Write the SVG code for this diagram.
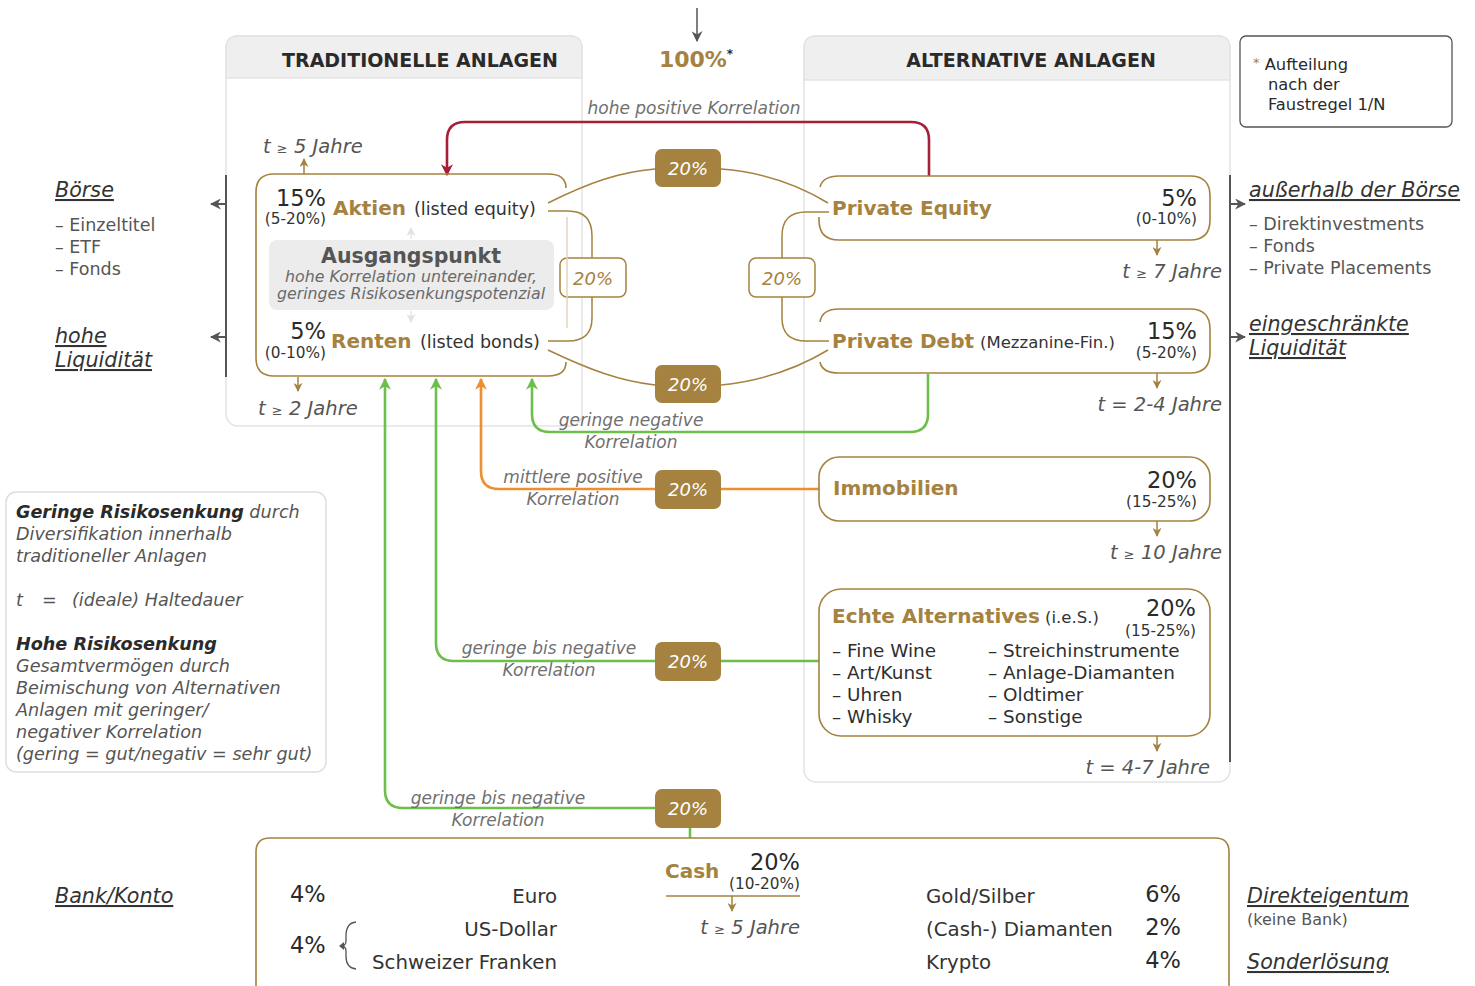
<svg xmlns="http://www.w3.org/2000/svg" width="1475" height="986" viewBox="0 0 1475 986" fill="#2e2e2e">
<defs>
<style>
text{font-family:"DejaVu Sans","Liberation Sans",sans-serif}
.hd{font-size:19px;font-weight:bold;fill:#2a2a2a}
.gt{font-weight:bold;fill:#a5823f;font-size:20px}
.sub{font-size:17.5px;fill:#333}
.pc{font-size:22.5px;fill:#2a2a2a}
.rg{font-size:15.3px;fill:#333}
.it{font-style:italic;fill:#6a6a6a}
.tj{font-style:italic;font-size:19.5px;fill:#555}
.lab{font-style:italic;font-size:17px;fill:#707070}
.wb{font-style:italic;font-size:18px;fill:#fff}
.ob{font-style:italic;font-size:18px;fill:#a5823f}
.ul{font-style:italic;font-size:20.7px;fill:#333;text-decoration:underline}
.li{font-size:17.5px;fill:#555}
.it2{font-style:italic;font-size:17.6px;fill:#555}
.gbox{fill:#a5823f}
.obox{fill:#fff;stroke:#a5823f;stroke-width:1.5}
.node{fill:none;stroke:#a5823f;stroke-width:1.6}
.gold{fill:none;stroke:#a5823f;stroke-width:1.5}
.grn{fill:none;stroke:#6cbf4a;stroke-width:2.6}
.org{fill:none;stroke:#ef8e2e;stroke-width:2.6}
.red{fill:none;stroke:#a51f36;stroke-width:2.6}
.dk{fill:none;stroke:#555;stroke-width:2}
.panel{fill:#fff;stroke:#e3e3e3;stroke-width:1.5}
.hdr{fill:#efefef;stroke:#e3e3e3;stroke-width:1.5}
</style>
<marker id="mG" viewBox="0 0 10 10" refX="9" refY="5" markerWidth="9" markerHeight="9" markerUnits="userSpaceOnUse" orient="auto"><path d="M0,0 L10,5 L0,10 L3,5 z" fill="#a5823f"/></marker>
<marker id="mGr" viewBox="0 0 10 10" refX="9" refY="5" markerWidth="12" markerHeight="12" markerUnits="userSpaceOnUse" orient="auto"><path d="M0,0 L10,5 L0,10 L3,5 z" fill="#6cbf4a"/></marker>
<marker id="mO" viewBox="0 0 10 10" refX="9" refY="5" markerWidth="12" markerHeight="12" markerUnits="userSpaceOnUse" orient="auto"><path d="M0,0 L10,5 L0,10 L3,5 z" fill="#ef8e2e"/></marker>
<marker id="mR" viewBox="0 0 10 10" refX="9" refY="5" markerWidth="12" markerHeight="12" markerUnits="userSpaceOnUse" orient="auto"><path d="M0,0 L10,5 L0,10 L3,5 z" fill="#a51f36"/></marker>
<marker id="mK" viewBox="0 0 10 10" refX="9" refY="5" markerWidth="11" markerHeight="11" markerUnits="userSpaceOnUse" orient="auto"><path d="M0,0 L10,5 L0,10 L3,5 z" fill="#555"/></marker>
<marker id="mL" viewBox="0 0 10 10" refX="9" refY="5" markerWidth="9" markerHeight="9" markerUnits="userSpaceOnUse" orient="auto"><path d="M0,0 L10,5 L0,10 L3,5 z" fill="#e2e2e2"/></marker>
</defs>
<rect width="1475" height="986" fill="#fff"/>

<g id="panel-trad">
<rect class="panel" x="226" y="36" width="356" height="390" rx="12"/>
<path class="hdr" d="M226,78 V48 Q226,36 238,36 H570 Q582,36 582,48 V78 Z"/>
<text class="hd" x="420" y="67" text-anchor="middle">TRADITIONELLE ANLAGEN</text>
</g>
<g id="panel-alt">
<rect class="panel" x="804" y="36" width="426" height="746" rx="12"/>
<path class="hdr" d="M804,80 V48 Q804,36 816,36 H1218 Q1230,36 1230,48 V80 Z"/>
<text class="hd" x="1031" y="67" text-anchor="middle">ALTERNATIVE ANLAGEN</text>
</g>

<g id="footnote">
<rect x="1240" y="36" width="212" height="91" rx="6" fill="#fff" stroke="#555" stroke-width="1.3"/>
<text x="1253" y="70" font-size="16.3" fill="#2a2a2a"><tspan fill="#a5823f" font-size="13" dy="-3">*</tspan><tspan dy="3"> Aufteilung</tspan></text>
<text x="1268" y="90" font-size="16.3" fill="#2a2a2a">nach der</text>
<text x="1268" y="110" font-size="16.3" fill="#2a2a2a">Faustregel 1/N</text>
</g>

<g id="total">
<text x="696" y="67" text-anchor="middle" font-size="22" font-weight="bold" fill="#a5823f">100%<tspan font-size="12" dy="-9" fill="#2a2a2a">*</tspan></text>
</g>

<g id="side-left">
<line class="dk" x1="226" y1="175" x2="226" y2="377"/>
<line class="dk" x1="226" y1="204" x2="211" y2="204" marker-end="url(#mK)"/>
<line class="dk" x1="226" y1="337" x2="211" y2="337" marker-end="url(#mK)"/>
<text class="ul" x="55" y="197">Börse</text>
<text class="li" x="55" y="231">– Einzeltitel</text>
<text class="li" x="55" y="253">– ETF</text>
<text class="li" x="55" y="275">– Fonds</text>
<text class="ul" x="55" y="343">hohe</text>
<text class="ul" x="55" y="367">Liquidität</text>
</g>
<g id="side-right">
<line class="dk" x1="1230" y1="175" x2="1230" y2="762"/>
<line class="dk" x1="1230" y1="204" x2="1245" y2="204" marker-end="url(#mK)"/>
<line class="dk" x1="1230" y1="337" x2="1245" y2="337" marker-end="url(#mK)"/>
<text class="ul" x="1249" y="197">außerhalb der Börse</text>
<text class="li" x="1249" y="230">– Direktinvestments</text>
<text class="li" x="1249" y="252">– Fonds</text>
<text class="li" x="1249" y="274">– Private Placements</text>
<text class="ul" x="1249" y="331">eingeschränkte</text>
<text class="ul" x="1249" y="355">Liquidität</text>
</g>

<g id="connectors">
<line x1="697" y1="8" x2="697" y2="41" stroke="#555" stroke-width="1.5" marker-end="url(#mK)"/>
<path class="red" d="M929,176 V140 Q929,122 911,122 H465 Q447,122 447,140 V175" marker-end="url(#mR)"/>
<path class="gold" d="M548,203 C590,182 620,172 655,169"/>
<path class="gold" d="M721,169 C760,172 795,183 828,203"/>
<path class="gold" d="M548,350 C590,370 620,381 655,385"/>
<path class="gold" d="M721,385 C760,381 795,370 828,350"/>
<path class="gold" d="M548,211 H568 Q592,211 592,236 V258"/>
<path class="gold" d="M592,297 V318 Q592,341 568,341 H548"/>
<path class="gold" d="M829,212 H806 Q782,212 782,236 V258"/>
<path class="gold" d="M782,297 V318 Q782,341 806,341 H829"/>
<path class="grn" d="M928,374 V414 Q928,432 910,432 H550 Q532,432 532,414 V379" marker-end="url(#mGr)"/>
<path class="org" d="M819,489 H499 Q481,489 481,471 V379" marker-end="url(#mO)"/>
<path class="grn" d="M819,661 H454 Q436,661 436,643 V379" marker-end="url(#mGr)"/>
<path class="grn" d="M690,838 V808 H403 Q385,808 385,790 V379" marker-end="url(#mGr)"/>
<text class="lab" x="694" y="114" text-anchor="middle">hohe positive Korrelation</text>
<text class="lab" x="631" y="426" text-anchor="middle">geringe negative</text>
<text class="lab" x="631" y="448" text-anchor="middle">Korrelation</text>
<text class="lab" x="573" y="483" text-anchor="middle">mittlere positive</text>
<text class="lab" x="573" y="505" text-anchor="middle">Korrelation</text>
<text class="lab" x="549" y="654" text-anchor="middle">geringe bis negative</text>
<text class="lab" x="549" y="676" text-anchor="middle">Korrelation</text>
<text class="lab" x="498" y="804" text-anchor="middle">geringe bis negative</text>
<text class="lab" x="498" y="826" text-anchor="middle">Korrelation</text>
<rect class="gbox" x="655" y="149" width="66" height="38" rx="7"/>
<text class="wb" x="688" y="175" text-anchor="middle">20%</text>
<rect class="gbox" x="655" y="365" width="66" height="38" rx="7"/>
<text class="wb" x="688" y="391" text-anchor="middle">20%</text>
<rect class="obox" x="560" y="258" width="66" height="39" rx="7"/>
<text class="ob" x="593" y="285" text-anchor="middle">20%</text>
<rect class="obox" x="749" y="258" width="66" height="39" rx="7"/>
<text class="ob" x="782" y="285" text-anchor="middle">20%</text>
<rect class="gbox" x="655" y="470" width="66" height="39" rx="7"/>
<text class="wb" x="688" y="496" text-anchor="middle">20%</text>
<rect class="gbox" x="655" y="642" width="66" height="39" rx="7"/>
<text class="wb" x="688" y="668" text-anchor="middle">20%</text>
<rect class="gbox" x="655" y="789" width="66" height="39" rx="7"/>
<text class="wb" x="688" y="815" text-anchor="middle">20%</text>
</g>

<g id="node-traditionell">
<path class="node" d="M566,362 Q566,376 548,376 H274 Q256,376 256,358 V192 Q256,174 274,174 H548 Q566,174 566,188"/>
<line x1="567" y1="217" x2="567" y2="328" stroke="#e2d5bb" stroke-width="1.5"/>
<line class="gold" x1="304" y1="174" x2="304" y2="159" marker-end="url(#mG)"/>
<text class="tj" x="263" y="153">t <tspan font-size="13">≥</tspan> 5 Jahre</text>
<line class="gold" x1="298" y1="377" x2="298" y2="391" marker-end="url(#mG)"/>
<text class="tj" x="258" y="415">t <tspan font-size="13">≥</tspan> 2 Jahre</text>
<text class="pc" x="326" y="206" text-anchor="end">15%</text>
<text class="rg" x="326" y="224" text-anchor="end">(5-20%)</text>
<text class="gt" x="333" y="215">Aktien</text>
<text class="sub" x="414" y="215">(listed equity)</text>
<line x1="411" y1="239" x2="411" y2="228" stroke="#e2e2e2" stroke-width="1.3" marker-end="url(#mL)"/>
<rect x="269" y="240" width="285" height="70" rx="8" fill="#ececec"/>
<text x="411" y="263" text-anchor="middle" font-size="20.5" font-weight="bold" fill="#555">Ausgangspunkt</text>
<text class="it" x="411" y="282" text-anchor="middle" font-size="15.8">hohe Korrelation untereinander,</text>
<text class="it" x="411" y="299" text-anchor="middle" font-size="15.8">geringes Risikosenkungspotenzial</text>
<line x1="411" y1="311" x2="411" y2="322" stroke="#e2e2e2" stroke-width="1.3" marker-end="url(#mL)"/>
<text class="pc" x="326" y="339" text-anchor="end">5%</text>
<text class="rg" x="326" y="358" text-anchor="end">(0-10%)</text>
<text class="gt" x="331" y="348">Renten</text>
<text class="sub" x="420" y="348">(listed bonds)</text>
</g>

<g id="node-private-equity">
<path class="node" d="M820,187 Q823,176 839,176 H1190 Q1210,176 1210,196 V220 Q1210,240 1190,240 H839 Q819,240 819,220 V217"/>
<text class="gt" x="832" y="215">Private Equity</text>
<text class="pc" x="1197" y="206" text-anchor="end">5%</text>
<text class="rg" x="1197" y="224" text-anchor="end">(0-10%)</text>
<line class="gold" x1="1157" y1="240" x2="1157" y2="255" marker-end="url(#mG)"/>
<text class="tj" x="1222" y="278" text-anchor="end">t <tspan font-size="13">≥</tspan> 7 Jahre</text>
</g>

<g id="node-private-debt">
<path class="node" d="M820,322 Q822,309 839,309 H1190 Q1210,309 1210,329 V353 Q1210,373 1190,373 H839 Q822,373 820,362"/>
<text class="gt" x="832" y="348">Private Debt</text>
<text x="980" y="348" font-size="16.5" fill="#333">(Mezzanine-Fin.)</text>
<text class="pc" x="1197" y="339" text-anchor="end">15%</text>
<text class="rg" x="1197" y="358" text-anchor="end">(5-20%)</text>
<line class="gold" x1="1157" y1="373" x2="1157" y2="388" marker-end="url(#mG)"/>
<text class="tj" x="1222" y="411" text-anchor="end">t = 2-4 Jahre</text>
</g>

<g id="node-immobilien">
<rect class="node" x="819" y="457" width="391" height="64" rx="20"/>
<text class="gt" x="833" y="495">Immobilien</text>
<text class="pc" x="1197" y="488" text-anchor="end">20%</text>
<text class="rg" x="1197" y="507" text-anchor="end">(15-25%)</text>
<line class="gold" x1="1157" y1="521" x2="1157" y2="536" marker-end="url(#mG)"/>
<text class="tj" x="1222" y="559" text-anchor="end">t <tspan font-size="13">≥</tspan> 10 Jahre</text>
</g>

<g id="node-echte-alternatives">
<rect class="node" x="819" y="589" width="391" height="147" rx="22"/>
<text class="gt" x="832" y="623">Echte Alternatives</text>
<text x="1045" y="623" font-size="16.5" fill="#333">(i.e.S.)</text>
<text class="pc" x="1196" y="616" text-anchor="end">20%</text>
<text class="rg" x="1196" y="636" text-anchor="end">(15-25%)</text>
<g font-size="18.4" fill="#2e2e2e">
<text x="832" y="657">– Fine Wine</text>
<text x="832" y="679">– Art/Kunst</text>
<text x="832" y="701">– Uhren</text>
<text x="832" y="723">– Whisky</text>
<text x="988" y="657">– Streichinstrumente</text>
<text x="988" y="679">– Anlage-Diamanten</text>
<text x="988" y="701">– Oldtimer</text>
<text x="988" y="723">– Sonstige</text>
</g>
<line class="gold" x1="1157" y1="736" x2="1157" y2="751" marker-end="url(#mG)"/>
<text class="tj" x="1210" y="774" text-anchor="end">t = 4-7 Jahre</text>
</g>

<g id="legend">
<rect x="6" y="492" width="320" height="280" rx="10" fill="#fff" stroke="#dedede" stroke-width="1.5"/>
<text class="it2" x="16" y="518"><tspan font-weight="bold" fill="#2a2a2a">Geringe Risikosenkung</tspan> durch</text>
<text class="it2" x="16" y="540">Diversifikation innerhalb</text>
<text class="it2" x="16" y="562">traditioneller Anlagen</text>
<text class="it2" x="16" y="606">t<tspan x="42">=</tspan><tspan x="72">(ideale) Haltedauer</tspan></text>
<text class="it2" x="16" y="650" style="font-weight:bold;fill:#2a2a2a">Hohe Risikosenkung</text>
<text class="it2" x="16" y="672">Gesamtvermögen durch</text>
<text class="it2" x="16" y="694">Beimischung von Alternativen</text>
<text class="it2" x="16" y="716">Anlagen mit geringer/</text>
<text class="it2" x="16" y="738">negativer Korrelation</text>
<text class="it2" x="16" y="760">(gering = gut/negativ = sehr gut)</text>
</g>

<g id="node-cash">
<path class="node" d="M256,986 V852 Q256,838 270,838 H1215 Q1229,838 1229,852 V986"/>
<text class="gt" x="665" y="878">Cash</text>
<text class="pc" x="800" y="870" text-anchor="end">20%</text>
<text class="rg" x="800" y="889" text-anchor="end">(10-20%)</text>
<line class="gold" x1="666" y1="896" x2="800" y2="896"/>
<line class="gold" x1="732" y1="896" x2="732" y2="911" marker-end="url(#mG)"/>
<text class="tj" x="800" y="934" text-anchor="end">t <tspan font-size="13">≥</tspan> 5 Jahre</text>
<text class="pc" x="290" y="902">4%</text>
<text class="pc" x="290" y="953">4%</text>
<path d="M356,922 Q346,923 346,936 V941 Q346,946 341,946 Q346,946 346,951 V956 Q346,968 356,969" fill="none" stroke="#555" stroke-width="1.3"/>
<path d="M339,946 L344,942 L344,950 Z" fill="#555"/>
<g font-size="19.8" fill="#333">
<text x="557" y="903" text-anchor="end">Euro</text>
<text x="557" y="936" text-anchor="end">US-Dollar</text>
<text x="557" y="969" text-anchor="end">Schweizer Franken</text>
<text x="926" y="903">Gold/Silber</text>
<text x="926" y="936">(Cash-) Diamanten</text>
<text x="926" y="969">Krypto</text>
</g>
<text class="pc" x="1181" y="902" text-anchor="end">6%</text>
<text class="pc" x="1181" y="935" text-anchor="end">2%</text>
<text class="pc" x="1181" y="968" text-anchor="end">4%</text>
</g>

<g id="side-bottom">
<text class="ul" x="55" y="903">Bank/Konto</text>
<text class="ul" x="1247" y="903">Direkteigentum</text>
<text x="1247" y="925" font-size="16" fill="#555">(keine Bank)</text>
<text class="ul" x="1247" y="969">Sonderlösung</text>
</g>
</svg>
